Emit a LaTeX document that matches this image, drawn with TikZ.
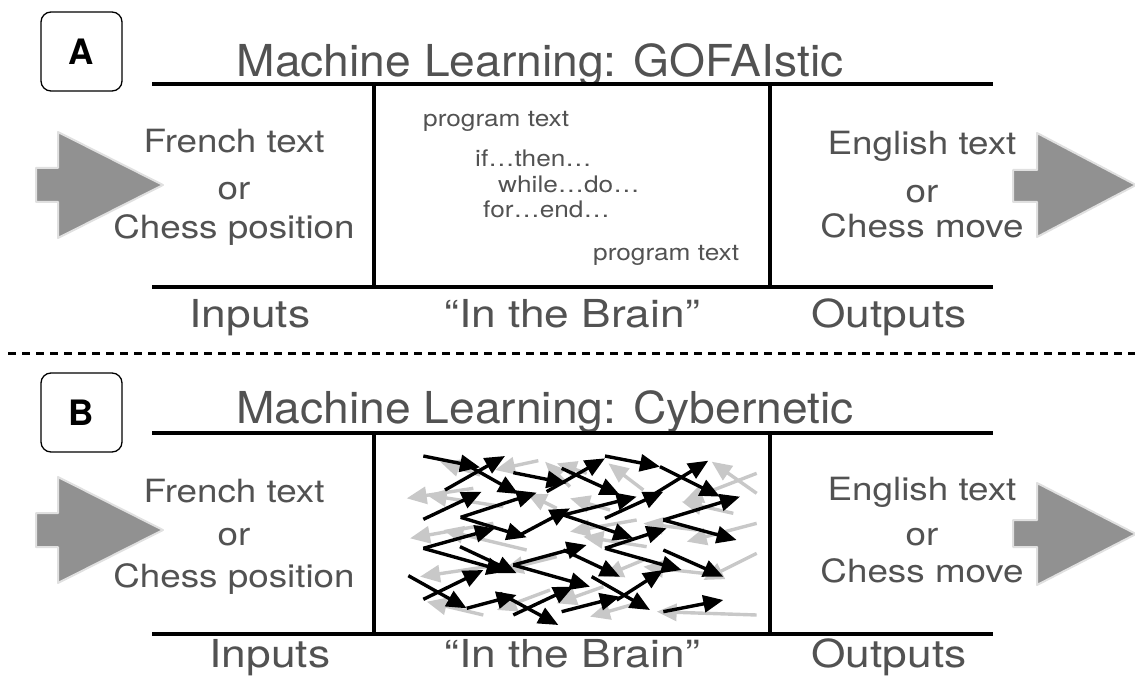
\documentclass[tikz,border=0pt]{standalone}
\usepackage{fontspec}
\setmainfont[FakeStretch=1.15]{TeX Gyre Heros}
\newfontfamily\tagfont{TeX Gyre Heros}
\newfontfamily\headfont[FakeStretch=1.05]{TeX Gyre Heros}
\usetikzlibrary{arrows.meta}
\definecolor{txt}{HTML}{525252}
\definecolor{blockgray}{HTML}{919191}
\definecolor{lgray}{HTML}{C8C8C8}
\begin{document}
\begin{tikzpicture}[x=1pt,y=-1pt,
  rule/.style={line width=3.5pt},
  titletext/.style={anchor=base, text=txt, inner sep=0pt, font=\headfont\fontsize{44}{52}\selectfont},
  sidetext/.style={anchor=base, text=txt, inner sep=0pt, font=\fontsize{32}{38}\selectfont},
  labtext/.style={anchor=base, text=txt, inner sep=0pt, font=\fontsize{38.5}{45}\selectfont},
  progtext/.style={anchor=base west, text=txt, inner sep=0pt, font=\fontsize{22.8}{26}\selectfont},
  tagbox/.style={draw, rounded corners=10pt, line width=1.3pt, minimum width=81pt, minimum height=79pt, inner sep=0pt, font=\tagfont\bfseries\fontsize{35}{40}\selectfont},
  blockarrow/.style={fill=blockgray, draw=black!12, line width=2pt, line join=round},
  barrow/.style={line width=3.4pt, -{Triangle[length=20pt,width=17pt]}},
  garrow/.style={barrow, draw=lgray, fill=lgray}
]
\useasboundingbox (0,0) rectangle (1135,679);

% ---------------- Panel A ----------------
\node[tagbox] (tagA) at (81.5,51.5) {A};
\node[titletext] (titleA) at (540,77) {Machine Learning: GOFAIstic};
\coordinate (A1) at (152,84);  \coordinate (A2) at (993,84);
\coordinate (A3) at (152,287); \coordinate (A4) at (993,287);
\coordinate (A5) at (374,84);  \coordinate (A6) at (374,287);
\coordinate (A7) at (770,84);  \coordinate (A8) at (770,287);
\draw[rule] (A1) -- (A2);
\draw[rule] (A3) -- (A4);
\draw[rule] (A5) -- (A6);
\draw[rule] (A7) -- (A8);

\path[blockarrow] (36,168) -- (58,168) -- (58,132) -- (163,185) -- (58,238) -- (58,202) -- (36,202) -- cycle;
\path[blockarrow] (1013,170) -- (1037,170) -- (1037,133) -- (1136,185) -- (1037,237) -- (1037,202) -- (1013,202) -- cycle;

\node[sidetext] (inA1) at (234,153) {French text};
\node[sidetext] (inA2) at (234,200) {or};
\node[sidetext] (inA3) at (234,238) {Chess position};
\node[sidetext] (outA1) at (922,155) {English text};
\node[sidetext] (outA2) at (922,203) {or};
\node[sidetext] (outA3) at (922,237) {Chess move};

\node[progtext] (pA1) at (423,127) {program text};
\node[progtext] (pA2) at (475,167) {if…then…};
\node[progtext] (pA3) at (498,193) {while…do…};
\node[progtext] (pA4) at (483,218) {for…end…};
\node[progtext] (pA5) at (593,260) {program text};

\node[labtext] (labA1) at (250,327) {Inputs};
\node[labtext] (labA2) at (572,327) {“In the Brain”};
\node[labtext] (labA3) at (889,327) {Outputs};

% ---------------- separator ----------------
\coordinate (S1) at (8,353); \coordinate (S2) at (1135,353);
\draw[line width=3pt, dash pattern=on 8pt off 6pt] (S1) -- (S2);

% ---------------- Panel B ----------------
\node[tagbox] (tagB) at (81.5,412.5) {B};
\node[titletext] (titleB) at (545,423) {Machine Learning: Cybernetic};
\coordinate (B1) at (152,433);  \coordinate (B2) at (993,433);
\coordinate (B3) at (152,634);  \coordinate (B4) at (993,634);
\coordinate (B5) at (374,433);  \coordinate (B6) at (374,634);
\coordinate (B7) at (770,433);  \coordinate (B8) at (770,634);
\draw[rule] (B1) -- (B2);
\draw[rule] (B3) -- (B4);
\draw[rule] (B5) -- (B6);
\draw[rule] (B7) -- (B8);

\path[blockarrow] (36,513) -- (58,513) -- (58,477) -- (163,530) -- (58,583) -- (58,547) -- (36,547) -- cycle;
\path[blockarrow] (1013,520) -- (1037,520) -- (1037,483) -- (1136,534) -- (1037,585) -- (1037,547) -- (1013,547) -- cycle;

\node[sidetext] (inB1) at (234,502) {French text};
\node[sidetext] (inB2) at (234,545) {or};
\node[sidetext] (inB3) at (234,587) {Chess position};
\node[sidetext] (outB1) at (922,500) {English text};
\node[sidetext] (outB2) at (922,545) {or};
\node[sidetext] (outB3) at (922,582) {Chess move};

% network of arrows (coordinates in a 1/3 scale frame)
\begin{scope}[xshift=370pt, yshift=-430pt, x=0.33333pt, y=-0.33333pt]
  % grey arrows (pointing back)
  \foreach \sx/\sy/\ex/\ey in {
    330/135/210/95, 505/92/375/120, 600/170/525/95, 820/180/715/100,
    1160/190/1025/95, 1160/130/940/215, 310/175/110/205, 400/230/170/195,
    560/235/470/190, 720/240/600/205, 1090/250/935/215, 370/280/120/325,
    470/360/220/300, 800/270/600/305, 830/350/640/320, 1160/280/950/335,
    350/410/150/440, 560/380/400/420, 820/390/700/440, 1000/430/820/410,
    340/555/170/515, 540/480/380/540, 700/470/560/520, 1160/555/860/545,
    1160/370/1000/450, 800/520/660/560, 980/300/820/280, 650/130/560/100}
    \draw[garrow] (\sx,\sy) -- (\ex,\ey);
  % black arrows
  \foreach \sx/\sy/\ex/\ey in {
    160/78/330/112, 300/110/445/192, 225/180/405/78, 160/268/335/185,
    272/262/500/188, 272/262/470/322, 430/128/590/160, 530/185/705/85,
    575/115/750/195, 705/78/870/110, 870/110/1050/200, 705/265/880/185,
    840/200/1015/92, 440/320/600/235, 580/255/800/200, 580/255/790/325,
    880/270/1110/200, 880/270/1100/330, 160/355/375/295, 160/355/410/425,
    270/350/440/430, 430/405/650/345, 430/405/660/470, 580/360/750/440,
    705/355/890/295, 705/355/935/420, 880/360/1060/440, 115/437/290/535,
    160/508/340/420, 290/535/440/495, 390/490/565/585, 430/555/610/470,
    575/545/750/500, 665/440/840/540, 740/510/880/420, 880/545/1060/510}
    \draw[barrow] (\sx,\sy) -- (\ex,\ey);
\end{scope}

\node[labtext] (labB1) at (270,667) {Inputs};
\node[labtext] (labB2) at (572,667) {“In the Brain”};
\node[labtext] (labB3) at (889,667) {Outputs};
\end{tikzpicture}
\end{document}
